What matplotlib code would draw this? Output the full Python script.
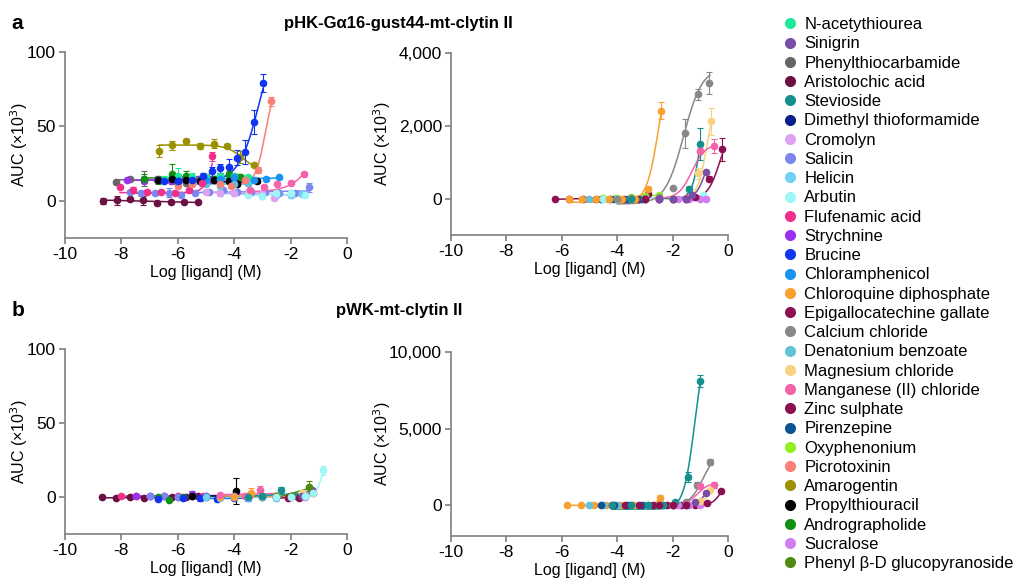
import numpy as np
import matplotlib
matplotlib.use("Agg")
import matplotlib.pyplot as plt
from matplotlib.lines import Line2D
from matplotlib.ticker import FuncFormatter

plt.rcParams['font.family'] = ['Liberation Sans', 'DejaVu Sans']
plt.rcParams['axes.unicode_minus'] = False

# compound names and colours (legend order)
names = ["N-acetythiourea", "Sinigrin", "Phenylthiocarbamide", "Aristolochic acid",
         "Stevioside", "Dimethyl thioformamide", "Cromolyn", "Salicin", "Helicin",
         "Arbutin", "Flufenamic acid", "Strychnine", "Brucine", "Chloramphenicol",
         "Chloroquine diphosphate", "Epigallocatechine gallate", "Calcium chloride",
         "Denatonium benzoate", "Magnesium chloride", "Manganese (II) chloride",
         "Zinc sulphate", "Pirenzepine", "Oxyphenonium", "Picrotoxinin", "Amarogentin",
         "Propylthiouracil", "Andrographolide", "Sucralose", "Phenyl β-D glucopyranoside"]
colors = ["#1ee89a", "#7a4ea8", "#666666", "#6a1042", "#149090", "#0b1f8c", "#dfa2f2",
          "#7b86f0", "#72d0f6", "#9ef7f7", "#f0308a", "#9b30f0", "#1034f0", "#1a92f0",
          "#f8a030", "#8c1252", "#888888", "#62c2d8", "#f8d27e", "#f462aa", "#8a1050",
          "#0c5592", "#92f020", "#f88078", "#9a9000", "#000000", "#109010", "#d07ef0",
          "#508a10"]
col = dict(zip(names, colors))

# ---- panel a, left : compound -> (log conc, AUC x10^3, error)
a1 = {
    "Aristolochic acid": ([-8.66, -8.17, -7.70, -7.22, -6.75, -6.25, -5.77, -5.28],
                          [0, 0.3, 1, 0.3, -1.5, -1, -0.8, -0.8], [2, 3, 1, 3, 1, 0.5, 0.5, 0.5]),
    "Phenylthiocarbamide": ([-8.2, -7.7, -7.2, -6.7, -6.2, -5.7, -5.2],
                            [12.5, 14.5, 15, 15, 14, 12, 13], [1, 1, 5, 2, 1, 1, 1]),
    "Strychnine": ([-7.8, -7.2, -6.75, -6.25, -5.8, -5.3, -4.85],
                   [14, 13.5, 14, 13.5, 15, 15, 14], [1, 1, 1, 1, 1, 1, 1]),
    "Salicin": ([-7.7, -7.3, -6.8, -6.3, -5.9, -5.4, -4.9, -4.4, -3.9, -3.4, -2.9, -2.4, -1.85, -1.35],
                [6, 5, 5, 5.5, 4, 5.5, 6, 7, 6, 6, 6, 5, 5, 9],
                [1, 1.5, 1, 3, 1, 1, 1, 1, 1, 1, 1, 1, 1, 3]),
    "Andrographolide": ([-7.2, -6.7, -6.2, -5.7, -5.2, -4.7, -4.2, -3.8],
                        [15, 14, 18, 17, 14, 15, 18, 16], [3, 3, 7, 3, 2, 1, 2, 2]),
    "N-acetythiourea": ([-6.5, -6.0, -5.5, -5.0, -4.5, -4.0, -3.5],
                        [15, 17, 16, 16, 17, 17, 16], [1, 5, 3, 2, 2, 2, 1]),
    "Propylthiouracil": ([-6.7, -6.2, -5.7, -5.2, -4.7, -4.2, -3.9, -3.2],
                         [14, 15, 14, 13, 14, 13, 11, 13], [1, 1, 1, 1, 1, 1, 1, 1]),
    "Dimethyl thioformamide": ([-6.0, -5.5, -5.0, -4.5, -4.0, -3.5],
                               [13, 13, 12, 14, 13, 12], [1, 1, 1, 1, 1, 1]),
    "Denatonium benzoate": ([-5.5, -5.0, -4.5, -4.0, -3.5], [12, 11, 10, 11, 12], [1, 1, 1, 1, 1]),
    "Chloramphenicol": ([-5.0, -4.5, -4.0, -3.3, -2.87, -2.4],
                        [14, 15, 16, 14, 14.5, 16], [1, 1, 1, 1, 1.5, 1]),
    "Helicin": ([-4.5, -4.0, -3.5, -3.0, -2.5, -2.0, -1.6],
                [5, 5, 5, 3.5, 4, 4, 4.5], [2, 1, 1, 1, 2, 2, 1.5]),
    "Cromolyn": ([-5.0, -4.5, -4.0, -3.5, -3.0, -2.6, -2.0],
                 [6, 5, 5, 6, 5, 2, 5], [1, 1, 1, 1, 1, 1.5, 1]),
    "Arbutin": ([-3.5, -3.0, -2.5, -2.0, -1.5], [4, 3, 5, 5, 4], [1, 1, 1, 1, 1]),
    "Flufenamic acid": ([-8.05, -7.6, -7.1, -6.6, -6.1, -5.6, -5.15, -4.78],
                        [9, 7, 6, 6, 5, 7, 12, 30], [1, 2, 1, 1, 1, 1, 2, 3]),
    "Manganese (II) chloride": ([-3.45, -2.96, -2.49, -1.99, -1.51],
                                [7, 9, 11.5, 12, 18], [1, 1.5, 1, 1, 1.5]),
    "Amarogentin": ([-6.66, -6.19, -5.70, -5.21, -4.73, -4.26, -3.79, -3.29],
                    [33.3, 37.2, 40.5, 36.7, 38.3, 36.9, 29.3, 24.1], [4, 3, 1, 2, 3, 1.5, 4, 1]),
    "Picrotoxinin": ([-6.0, -5.5, -4.5, -4.1, -3.6, -3.17, -2.69],
                     [10, 11, 11, 10, 14, 21, 67], [1, 1, 2, 1, 2, 2, 3]),
    "Brucine": ([-6.5, -6.0, -5.5, -5.09, -4.79, -4.5, -4.2, -3.91, -3.6, -3.29, -2.98],
                [13, 13, 14, 17, 20, 22, 23, 29, 33, 53, 79], [1, 1, 2, 2, 3, 3, 5, 5, 8, 8, 6]),
}
# fitted curves: compound -> (bottom, top, logEC50, hill, x from, x to)
a1_fit = {
    "Amarogentin": (20, 37.5, -3.7, -1.5, -6.66, -3.29),
    "Brucine": (13, 120, -3.1, 1.2, -6.3, -2.98),
    "Picrotoxinin": (11, 80, -2.9, 2.5, -4.2, -2.69),
    "Flufenamic acid": (5.5, 80, -4.6, 2.5, -8.05, -4.78),
    "Manganese (II) chloride": (6, 60, -1.0, 1.0, -3.5, -1.5),
}

# ---- panel a, right
a2 = {
    "Epigallocatechine gallate": ([-6.25, -5.75, -5.25, -4.75, -4.25, -3.75, -3.25, -2.9],
                                  [0, 0, 0, 0, 0, 0, 0, 130], [10, 10, 10, 10, 10, 10, 10, 20]),
    "Denatonium benzoate": ([-5.0, -4.5, -4.0, -3.5, -3.0], [0, 0, 0, 0, 0], [10, 10, 10, 10, 10]),
    "Pirenzepine": ([-4.6, -4.1, -3.6, -3.1], [0, 0, 0, 0], [10, 10, 10, 10]),
    "Oxyphenonium": ([-4.5, -4.0, -3.5, -3.0, -2.5], [10, 20, 30, 80, 100], [10, 10, 10, 15, 20]),
    "Arbutin": ([-4.5, -4.0, -3.5, -3.0, -2.5, -2.0, -1.5, -1.3, -0.9],
                [0, 0, 0, 0, 0, 0, 0, 50, 100], [10, 10, 10, 10, 10, 10, 10, 10, 10]),
    "Sucralose": ([-1.8, -1.4, -1.0, -0.8], [0, 0, 0, 0], [10, 10, 10, 10]),
    "Chloroquine diphosphate": ([-5.74, -5.26, -4.78, -4.30, -3.82, -3.34, -2.88, -2.40],
                                [0, 0, 0, 0, 0, 0, 250, 2420], [20, 20, 20, 20, 20, 20, 60, 230]),
    "Calcium chloride": ([-4.0, -3.5, -3.0, -2.5, -2.0, -1.56, -1.08, -0.67],
                         [0, 10, 20, 50, 300, 1800, 2870, 3170], [20, 20, 20, 20, 30, 400, 150, 300]),
    "Magnesium chloride": ([-3.0, -2.5, -2.0, -1.5, -1.08, -0.6],
                           [0, 0, 10, 20, 700, 2120], [10, 10, 10, 10, 150, 380]),
    "Stevioside": ([-3.5, -3.0, -2.5, -2.0, -1.4, -1.0],
                   [0, 0, 0, 0, 250, 1500], [10, 10, 10, 10, 100, 450]),
    "Manganese (II) chloride": ([-3.0, -2.5, -2.0, -1.5, -1.02, -0.5],
                                [0, 0, 0, 20, 1320, 1450], [10, 10, 10, 10, 80, 200]),
    "Zinc sulphate": ([-3.0, -2.5, -2.0, -1.5, -1.2, -0.68, -0.2],
                      [0, 0, 0, 0, 30, 550, 1350], [10, 10, 10, 10, 20, 60, 310]),
    "Sinigrin": ([-2.5, -2.0, -1.5, -1.3, -0.78], [0, 0, 0, 100, 720], [10, 10, 10, 30, 50]),
}
a2_fit = {
    "Chloroquine diphosphate": (-100, 4000, -2.5, 2.0, -5.74, -2.40),
    "Calcium chloride": (-150, 3600, -1.6, 1.3, -4.0, -0.65),
    "Magnesium chloride": (0, 3000, -0.75, 2.5, -2.2, -0.6),
    "Stevioside": (0, 3000, -1.0, 3.0, -2.5, -1.0),
    "Manganese (II) chloride": (0, 1500, -1.3, 1.8, -2.5, -0.5),
    "Zinc sulphate": (0, 2000, -0.3, 2.0, -2.0, -0.2),
    "Sinigrin": (0, 1500, -0.8, 2.5, -1.8, -0.78),
}

# ---- panel b, left
b1 = {
    "Aristolochic acid": ([-8.7, -8.2, -7.7, -7.2, -6.7, -6.2, -5.7, -5.3],
                          [-0.3, -0.5, -0.3, -0.5, -0.5, -0.3, 0.2, 0.5], [0.3, 1, 0.5, 1, 0.5, 0.3, 0.3, 0.3]),
    "Flufenamic acid": ([-8.0, -7.5, -7.0, -6.5, -6.0, -5.5, -5.1],
                        [0.5, 0.8, 0.8, 0.5, 0.5, 0.7, 1], [0.3] * 7),
    "Strychnine": ([-7.5, -7.0, -6.5, -6.0, -5.5, -5.0, -4.5],
                   [0.5, 0.5, 0.5, 0.2, 2, 1, 0.5], [0.3, 0.3, 0.3, 0.3, 2, 0.5, 0.3]),
    "Salicin": ([-7.0, -6.5, -6.0, -5.5, -5.0, -4.5, -4.0, -3.5, -3.0, -2.5, -2.0, -1.5],
                [0.5, 0.5, 0.3, 0.5, 1, 0.5, 0.5, 1, 0.5, 0, 0.5, 1], [0.5] * 12),
    "Andrographolide": ([-6.7, -6.3, -5.8], [0, -2, 0], [0.5, 1, 0.5]),
    "Brucine": ([-6.7, -5.8, -5.2, -4.6, -4.0, -3.5],
                [-1.5, -0.5, -1, -1.5, -0.5, -1], [0.5, 0.5, 1.5, 1, 1, 2]),
    "Propylthiouracil": ([-5.5, -5.0, -4.5, -3.95, -3.5, -3.0],
                         [0.5, 0, 0, 4, 0, 0], [0.5, 0.5, 0.5, 9, 0.5, 0.5]),
    "Helicin": ([-5.0, -4.5, -4.0, -3.5, -3.0, -2.5, -2.0, -1.5],
                [0, -0.5, 0, -1, 0, -1, 0, 1], [0.5, 0.5, 0.5, 1, 0.5, 1.5, 0.5, 0.5]),
    "Sucralose": ([-4.5, -4.0, -3.5, -3.0, -2.5, -2.0, -1.5],
                  [1, 0.5, 1, 1, 0.5, 1, 0], [0.5] * 7),
    "Chloroquine diphosphate": ([-4.5, -4.0, -3.4, -3.0, -2.5, -2.0],
                                [0, 0, 3, 0.5, 0, 0], [0.5, 0.5, 3, 0.5, 0.5, 0.5]),
    "Manganese (II) chloride": ([-4.5, -3.6, -3.1, -2.5], [1.5, 0.5, 5, 1], [0.5, 0.5, 2.5, 0.5]),
    "Stevioside": ([-3.5, -3.0, -2.35, -1.8], [0, 0.5, 4.5, 0.5], [0.5, 0.5, 2.5, 0.5]),
    "Magnesium chloride": ([-2.5, -2.0, -1.6], [0.5, 1, 3], [0.5, 0.5, 1]),
    "Zinc sulphate": ([-2.5, -2.1, -1.7, -1.2], [0, -1, -1, 2.5], [0.5, 0.5, 0.5, 1]),
    "Sinigrin": ([-2.0, -1.6, -1.25], [0.5, 1, 5], [0.5, 0.5, 1]),
    "Phenyl β-D glucopyranoside": ([-2.5, -2.0, -1.35], [0.5, 0.5, 6.5], [0.5, 0.5, 4]),
    "Arbutin": ([-2.5, -2.0, -1.5, -1.2, -0.85], [0, 0, 1, 3, 18], [0.5, 0.5, 0.5, 1, 3]),
}
b1_fit = {
    "Arbutin": (0, 40, -0.8, 3.0, -1.6, -0.85),
}

# ---- panel b, right
b2 = {
    "Chloroquine diphosphate": ([-5.8, -5.3, -4.85, -4.4, -3.9, -3.4, -2.9, -2.45],
                                [0, 0, 0, 0, 0, 0, 20, 500], [10, 10, 10, 10, 10, 10, 20, 150]),
    "Denatonium benzoate": ([-5.0, -4.5, -4.0, -3.5, -3.0], [0, 0, 0, 0, 0], [10] * 5),
    "Pirenzepine": ([-4.6, -4.1, -3.6, -3.1], [0, 0, 0, 0], [10] * 4),
    "Epigallocatechine gallate": ([-4.2, -3.7, -3.2, -2.7, -2.2, -1.7, -1.2], [0] * 7, [10] * 7),
    "Sucralose": ([-1.8, -1.4, -1.0], [0, 0, 0], [10] * 3),
    "Stevioside": ([-4.2, -3.5, -2.9, -2.35, -1.9, -1.45, -1.0],
                   [0, 0, 0, 0, 200, 1850, 8100], [20, 20, 20, 20, 60, 300, 400]),
    "Calcium chloride": ([-2.0, -1.5, -1.1, -0.65], [50, 200, 1300, 2800], [20, 50, 200, 200]),
    "Manganese (II) chloride": ([-2.0, -1.5, -1.0, -0.5], [0, 100, 1250, 1350], [20, 50, 150, 200]),
    "Magnesium chloride": ([-2.0, -1.5, -1.0, -0.65], [0, 50, 300, 1000], [20, 20, 50, 80]),
    "Sinigrin": ([-2.0, -1.5, -1.2, -0.8], [0, 0, 200, 800], [20, 20, 30, 60]),
    "Zinc sulphate": ([-2.5, -2.0, -1.5, -0.75, -0.25], [0, 0, 0, 150, 950], [10, 10, 10, 30, 50]),
}
b2_fit = {
    "Chloroquine diphosphate": (0, 1000, -2.45, 4.0, -5.8, -2.45),
    "Stevioside": (-250, 11000, -1.2, 2.2, -4.2, -1.0),
    "Calcium chloride": (0, 3500, -0.9, 1.8, -2.2, -0.65),
    "Manganese (II) chloride": (0, 1500, -1.1, 2.0, -2.2, -0.5),
    "Magnesium chloride": (0, 2500, -0.5, 2.0, -2.0, -0.65),
    "Sinigrin": (0, 1500, -0.8, 2.5, -2.0, -0.8),
    "Zinc sulphate": (0, 2000, -0.2, 2.5, -2.0, -0.25),
}


def hill(x, bottom, top, logec, h):
    return bottom + (top - bottom) / (1 + 10 ** ((logec - x) * h))


def draw(ax, data, fits):
    for name, (x, y, e) in data.items():
        c = col[name]
        x = np.array(x)
        y = np.array(y)
        if name in fits:
            b, t, le, h, x0, x1 = fits[name]
            xx = np.linspace(x0, x1, 200)
            ax.plot(xx, hill(xx, b, t, le, h), color=c, lw=1.1)
        else:
            k, m = np.polyfit(x, y, 1)
            ax.plot([x.min(), x.max()], [k * x.min() + m, k * x.max() + m], color=c, lw=1.1)
        ax.errorbar(x, y, yerr=e, fmt='o', color=c, ms=4.5, elinewidth=0.8,
                    capsize=2.5, capthick=0.8, zorder=3)


def style(ax, ymin, ymax, yticks, labx):
    ax.set_xlim(-10, 0)
    ax.set_ylim(ymin, ymax)
    ax.set_xticks([-10, -8, -6, -4, -2, 0])
    ax.set_yticks(yticks)
    ax.yaxis.set_major_formatter(FuncFormatter(lambda v, p: f"{int(v):,}"))
    for s in ["top", "right"]:
        ax.spines[s].set_visible(False)
    for s in ["left", "bottom"]:
        ax.spines[s].set_color("#7f7f7f")
        ax.spines[s].set_linewidth(1.2)
    ax.tick_params(colors="#7f7f7f", labelcolor="black", labelsize=12.5, width=1.2,
                   length=4, pad=2.5)
    ax.set_ylabel("AUC (×10$^3$)", fontsize=11.5)
    ax.yaxis.set_label_coords(labx, 0.5)
    ax.set_xlabel("Log [ligand] (M)", fontsize=11.5, labelpad=2)


fig = plt.figure(figsize=(10.16, 5.87), dpi=100)
ax1 = fig.add_axes([0.064, 0.5945, 0.2775, 0.3169])
ax2 = fig.add_axes([0.4439, 0.5997, 0.2726, 0.3100])
ax3 = fig.add_axes([0.064, 0.0903, 0.2775, 0.3152])
ax4 = fig.add_axes([0.4439, 0.0869, 0.2726, 0.3134])

draw(ax1, a1, a1_fit)
style(ax1, -25, 100, [0, 50, 100], -0.124)
draw(ax2, a2, a2_fit)
style(ax2, -1000, 4000, [0, 2000, 4000], -0.21)
draw(ax3, b1, b1_fit)
style(ax3, -25, 100, [0, 50, 100], -0.124)
draw(ax4, b2, b2_fit)
style(ax4, -2000, 10000, [0, 5000, 10000], -0.21)

fig.text(0.011, 0.960, "a", fontsize=15, fontweight="bold", va="center")
fig.text(0.3925, 0.960, "pHK-Gα16-gust44-mt-clytin II", fontsize=12, fontweight="bold",
         ha="center", va="center")
fig.text(0.011, 0.471, "b", fontsize=15, fontweight="bold", va="center")
fig.text(0.3925, 0.471, "pWK-mt-clytin II", fontsize=12, fontweight="bold",
         ha="center", va="center")

handles = [Line2D([], [], marker='o', ls='none', color=c, ms=7) for c in colors]
fig.legend(handles, names, loc="upper left", bbox_to_anchor=(0.763, 0.982), frameon=False,
           fontsize=12, handletextpad=0.35, labelspacing=0.255, handlelength=1.0,
           borderaxespad=0)

fig.savefig("out.png", dpi=100)
